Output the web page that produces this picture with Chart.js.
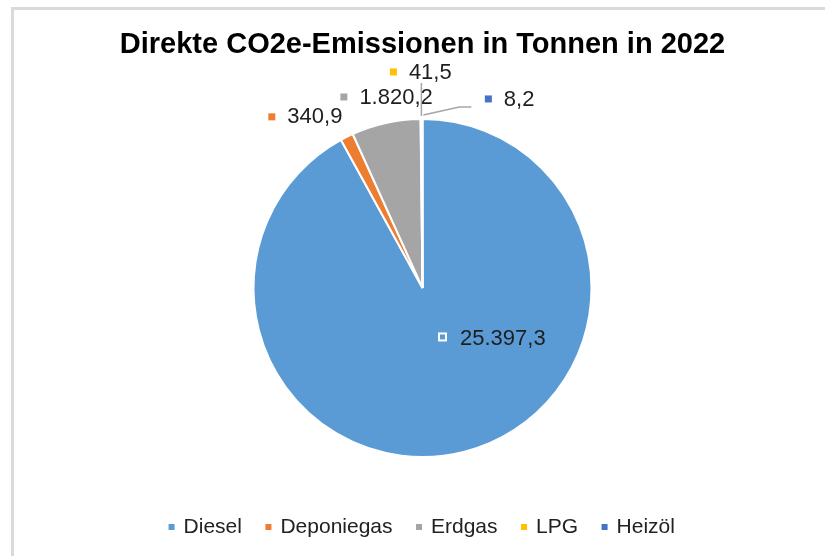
<!DOCTYPE html>
<html>
<head>
<meta charset="utf-8">
<script src="https://cdn.jsdelivr.net/npm/chart.js@4/dist/chart.umd.min.js"></script>
<style>
  html, body { margin: 0; padding: 0; background: #fff; }
  #frame { position: absolute; left: 11px; top: 7px; width: 900px; height: 600px;
           border-left: 3px solid #dadada; border-top: 3px solid #dadada; }
  #wrap { position: absolute; left: 0; top: 0; width: 825px; height: 556px; }
</style>
</head>
<body>
<div id="frame"></div>
<div id="wrap"><canvas id="c" width="825" height="556"></canvas></div>
<script>
const categories = ['Diesel', 'Deponiegas', 'Erdgas', 'LPG', 'Heizöl'];
const emissions = [25397.3, 340.9, 1820.2, 41.5, 8.2];
const sliceColors = ['#5b9bd5', '#ed7d31', '#a5a5a5', '#ffc000', '#4472c4'];
const chartTitle = 'Direkte CO2e-Emissionen in Tonnen in 2022';

// where each data label sits: offset of its marker from the slice's outer mid point
// (inside label: offset from the pie centre)
const labelPlacement = [
  { inside: true, dx: 20, dy: 49 },
  { dx: -75, dy: -20 },
  { dx: -42, dy: -26 },
  { dx: -28, dy: -47, leader: 'up' },
  { dx: 66, dy: -20, leader: 'elbow' }
];

const FONT = '"Liberation Sans", Arial, sans-serif';

function fmtDe(v) {
  const [i, d] = v.toFixed(1).split('.');
  return i.replace(/\B(?=(\d{3})+(?!\d))/g, '.') + ',' + d;
}

const sliceLabels = {
  id: 'sliceLabels',
  afterDatasetsDraw(chart) {
    const ctx = chart.ctx;
    const arcs = chart.getDatasetMeta(0).data;
    ctx.save();
    ctx.font = '22px ' + FONT;
    ctx.textBaseline = 'middle';
    ctx.textAlign = 'left';
    arcs.forEach((arc, i) => {
      const p = labelPlacement[i];
      const { x, y, outerRadius, startAngle, endAngle } =
        arc.getProps(['x', 'y', 'outerRadius', 'startAngle', 'endAngle'], true);
      const mid = (startAngle + endAngle) / 2;
      const ox = x + Math.cos(mid) * outerRadius;
      const oy = y + Math.sin(mid) * outerRadius;
      const mx = p.inside ? x + p.dx : ox + p.dx;
      const my = p.inside ? y + p.dy : oy + p.dy;

      ctx.strokeStyle = '#a6a6a6';
      ctx.lineWidth = 1.5;
      if (p.leader === 'up') {
        ctx.beginPath();
        ctx.moveTo(ox, oy - 3);
        ctx.lineTo(ox, my + 11);
        ctx.stroke();
      } else if (p.leader === 'elbow') {
        ctx.beginPath();
        ctx.moveTo(ox + 1, oy - 4);
        ctx.lineTo(mx - 29, my + 8);
        ctx.lineTo(mx - 17, my + 8);
        ctx.stroke();
      }

      ctx.fillStyle = sliceColors[i];
      if (p.inside) {
        ctx.fillRect(mx - 4.5, my - 4.5, 9, 9);
        ctx.strokeStyle = '#fff';
        ctx.lineWidth = 2;
        ctx.strokeRect(mx - 3.5, my - 3.5, 7, 7);
        ctx.fillStyle = '#1e1e1e';
        ctx.fillText(fmtDe(emissions[i]), mx + 17.5, my + 2);
      } else {
        ctx.fillRect(mx - 3.5, my - 3.5, 7, 7);
        ctx.fillStyle = '#1e1e1e';
        ctx.fillText(fmtDe(emissions[i]), mx + 15.5, my + 0.5);
      }
    });
    ctx.restore();
  }
};

new Chart(document.getElementById('c'), {
  type: 'pie',
  data: {
    labels: categories,
    datasets: [{
      data: emissions,
      backgroundColor: sliceColors,
      borderColor: '#fff',
      borderWidth: 2,
      radius: 169
    }]
  },
  options: {
    responsive: false,
    animation: false,
    layout: { padding: { left: 20, bottom: 8.5 } },
    plugins: {
      title: {
        display: true,
        text: chartTitle,
        color: '#000',
        font: { family: FONT, size: 29, weight: 'bold' },
        padding: { top: 27.6, bottom: 22 }
      },
      legend: {
        position: 'bottom',
        labels: {
          usePointStyle: true,
          pointStyle: 'rect',
          boxWidth: 3,
          boxHeight: 6,
          padding: 25,
          color: '#222',
          font: { family: FONT, size: 21 },
          generateLabels(chart) {
            const base = Chart.overrides.doughnut.plugins.legend.labels.generateLabels(chart);
            return base.map(it => ({ ...it, lineWidth: 0, pointStyle: 'rect' }));
          }
        }
      },
      tooltip: { enabled: false }
    }
  },
  plugins: [sliceLabels]
});
</script>
</body>
</html>
